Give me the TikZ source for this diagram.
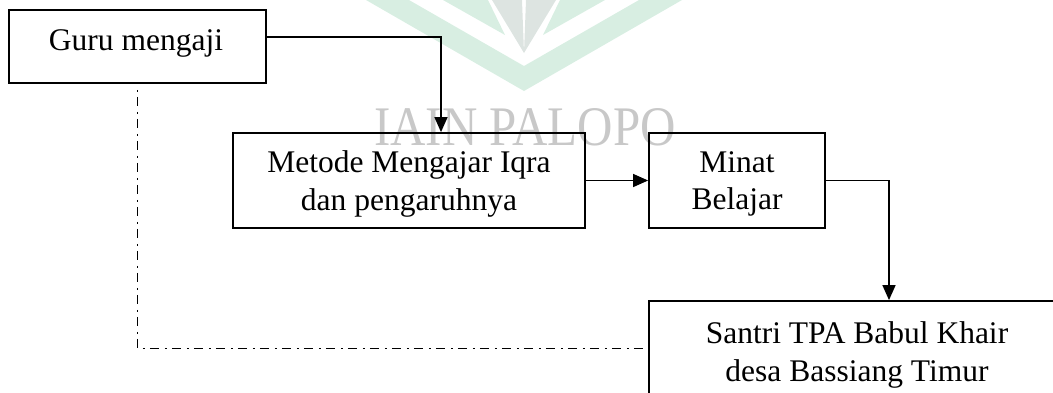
\documentclass[tikz,border=0pt]{standalone}
\usepackage{fontspec}
\setmainfont{Liberation Serif}
\usetikzlibrary{arrows.meta}
\definecolor{wmgreen}{RGB}{216,238,226}
\definecolor{wmgray}{RGB}{221,228,225}
\definecolor{wmtext}{RGB}{200,200,200}
\begin{document}
\begin{tikzpicture}[x=1pt,y=-1pt,
  box/.style={draw, line width=1.8pt, inner sep=0pt},
  txt/.style={font=\fontsize{31.5}{37.5}\selectfont, align=center, text depth=0pt},
  conn/.style={line width=1.4pt, -{Triangle[length=15pt,width=13pt]}},
  ddash/.style={line width=1.3pt, dash pattern=on 2pt off 5pt on 9pt off 6pt, dash phase=16pt}]
\useasboundingbox (0,0) rectangle (1053,392);
\clip (0,0) rectangle (1053,392);
% watermark
\fill[wmgreen] (366,0)--(524,91)--(682,0)--(639,0)--(524,66)--(409,0)--cycle;
\fill[wmgreen] (443,0)--(488,0)--(505,35)--cycle;
\fill[wmgreen] (560,0)--(605,0)--(543,35)--cycle;
\fill[wmgray] (492,0)--(522,0)--(524,53)--cycle;
\fill[wmgray] (526,0)--(556,0)--(524,53)--cycle;
\node[text=wmtext, font=\fontsize{49}{49}\selectfont, anchor=base, inner sep=0pt] (wm) at (525,145) {\scalebox{1}[1.14]{IAIN PALOPO}};
% boxes
\node[box, minimum width=257pt, minimum height=73pt] (guru) at (137.5,46.5) {};
\node[txt, anchor=base, inner sep=0pt] (gurut) at (136,50) {Guru mengaji};
\node[box, txt, minimum width=352pt, minimum height=95pt] (metode) at (409,180.5) {Metode Mengajar Iqra\\dan pengaruhnya};
\node[box, txt, minimum width=176pt, minimum height=95pt] (minat) at (737,180.5) {Minat\\Belajar};
\node[box, txt, minimum width=416pt, minimum height=101pt] (santri) at (857,351.5) {Santri TPA Babul Khair\\desa Bassiang Timur};
% connectors
\draw[conn] ([yshift=9.5pt]guru.east) -| ([xshift=32pt]metode.north);
\draw[conn] (metode.east) -- (minat.west);
\draw[conn] (minat.east) -| ([xshift=32pt]santri.north);
\draw[ddash] (guru.south) |- ([yshift=3pt]santri.west);
\end{tikzpicture}
\end{document}
